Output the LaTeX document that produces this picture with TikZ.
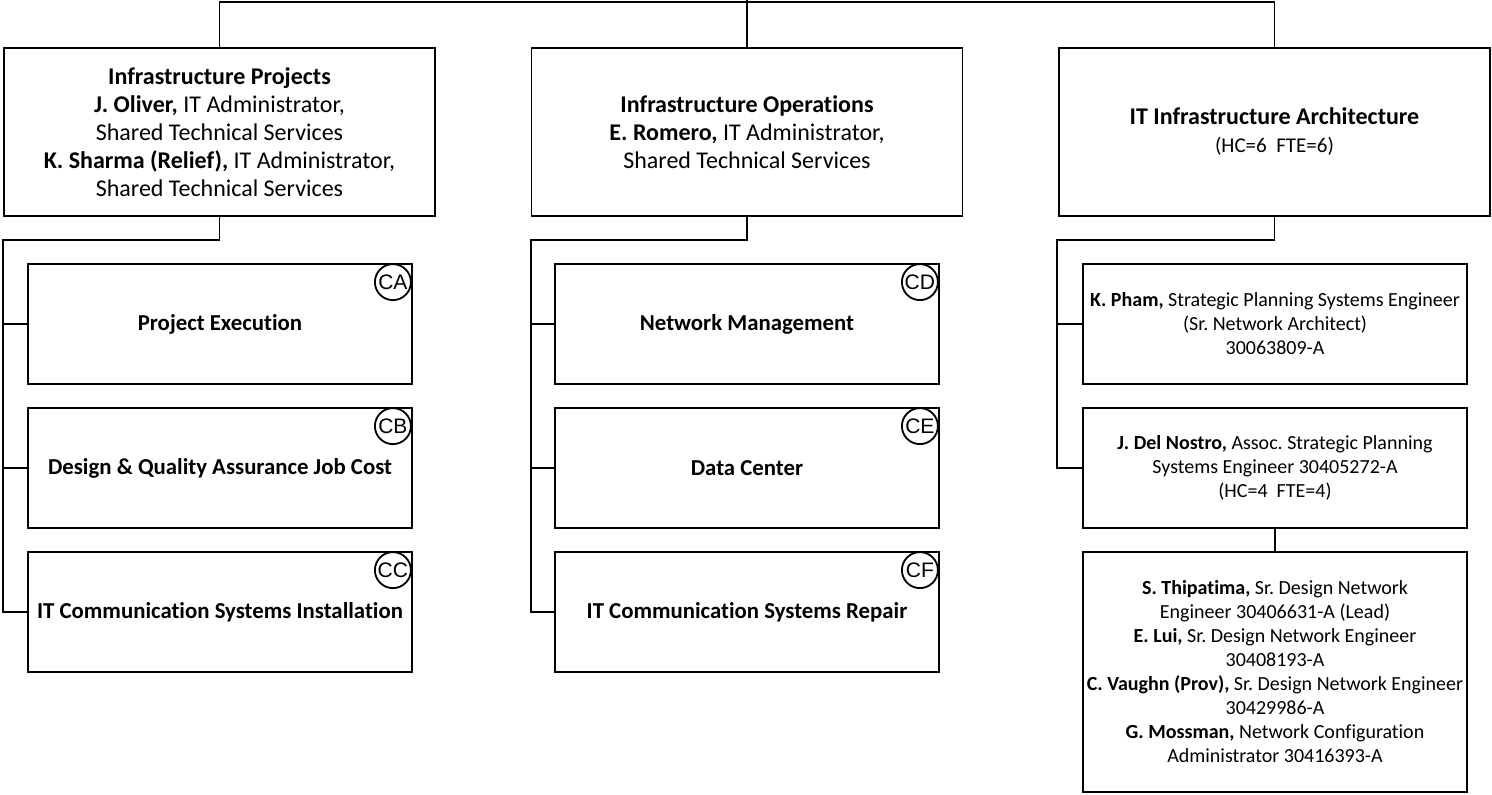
\documentclass[tikz,border=0pt]{standalone}
\usepackage{fontspec}
\setmainfont{Carlito}[Ligatures=NoCommon]
\newfontfamily\badgefont{Liberation Sans}
\frenchspacing

\begin{document}
\begin{tikzpicture}[x=0.5pt,y=-0.5pt,line width=0.9pt,
  unit/.style ={rectangle, draw, align=center, inner sep=0pt, minimum width=215.5pt, minimum height=84pt, font=\fontsize{12}{14}\selectfont},
  section/.style ={rectangle, draw, align=center, inner sep=0pt, minimum width=192pt, minimum height=60pt, font=\fontsize{11.4}{14}\selectfont\bfseries},
  staff/.style ={rectangle, draw, align=center, inner sep=0pt, minimum width=192pt, minimum height=60pt, font=\fontsize{10}{12}\selectfont},
  badge/.style ={circle, draw, inner sep=0pt, minimum size=18pt, font=\badgefont\fontsize{10.5}{12}\selectfont}]
 \useasboundingbox (0,0) rectangle (1492,794);
 % top row
 \node[unit] (IP) at (219.5,132) {\textbf{Infrastructure Projects}\\\textbf{J. Oliver,} IT Administrator,\\Shared Technical Services\\\textbf{K. Sharma (Relief),} IT Administrator,\\Shared Technical Services};
 \node[unit] (IO) at (747,132) {\textbf{Infrastructure Operations}\\\textbf{E. Romero,} IT Administrator,\\Shared Technical Services};
 \node[unit] (ITA) at (1274.5,132) {\textbf{IT Infrastructure Architecture}\\{\fontsize{10.5}{12}\selectfont(HC=6\ \ FTE=6)}};
 \coordinate (bus) at (747,2);
 \coordinate (root) at (747,0);
 % sections
 \node[section] (PE) at (220,324) {Project Execution};
 \node[section] (DQ) at (220,468) {Design \& Quality Assurance Job Cost};
 \node[section] (CI) at (220,612) {IT Communication Systems Installation};
 \node[section] (NM) at (747,324) {Network Management};
 \node[section] (DC) at (747,468) {Data Center};
 \node[section] (CR) at (747,612) {IT Communication Systems Repair};
 % staff
 \node[staff] (KP) at (1275,324) {\textbf{K. Pham,} Strategic Planning Systems Engineer\\(Sr. Network Architect)\\30063809-A};
 \node[staff] (DN) at (1275,468) {\textbf{J. Del Nostro,} Assoc. Strategic Planning\\Systems Engineer 30405272-A\\(HC=4\ \ FTE=4)};
 \node[staff, minimum height=120pt] (ST) at (1275,672) {\textbf{S. Thipatima,} Sr. Design Network\\Engineer 30406631-A (Lead)\\\textbf{E. Lui,} Sr. Design Network Engineer\\30408193-A\\\textbf{C. Vaughn (Prov),} Sr. Design Network Engineer\\30429986-A\\\textbf{G. Mossman,} Network Configuration\\Administrator 30416393-A};
 % badges
 \node[badge] (CA) at ([xshift=-10pt,yshift=-9.5pt]PE.north east) {CA};
 \node[badge] (CB) at ([xshift=-10pt,yshift=-9.5pt]DQ.north east) {CB};
 \node[badge] (CC) at ([xshift=-10pt,yshift=-9.5pt]CI.north east) {CC};
 \node[badge] (CD) at ([xshift=-10pt,yshift=-9.5pt]NM.north east) {CD};
 \node[badge] (CE) at ([xshift=-10pt,yshift=-9.5pt]DC.north east) {CE};
 \node[badge] (CF) at ([xshift=-10pt,yshift=-9.5pt]CR.north east) {CF};
 % rails
 \coordinate (IPrail) at (3,240);
 \coordinate (IOrail) at (531,240);
 \coordinate (ITArail) at (1057,240);
 \draw (IP.north) |- (bus) -| (ITA.north);
 \draw (IO.north) -- (root);
 \draw (IP.south) |- (IPrail) |- (CI.west);
 \draw (IPrail |- PE.west) -- (PE.west);
 \draw (IPrail |- DQ.west) -- (DQ.west);
 \draw (IO.south) |- (IOrail) |- (CR.west);
 \draw (IOrail |- NM.west) -- (NM.west);
 \draw (IOrail |- DC.west) -- (DC.west);
 \draw (ITA.south) |- (ITArail) |- (DN.west);
 \draw (ITArail |- KP.west) -- (KP.west);
 \draw (DN.south) -- (ST.north);
\end{tikzpicture}
\end{document}
